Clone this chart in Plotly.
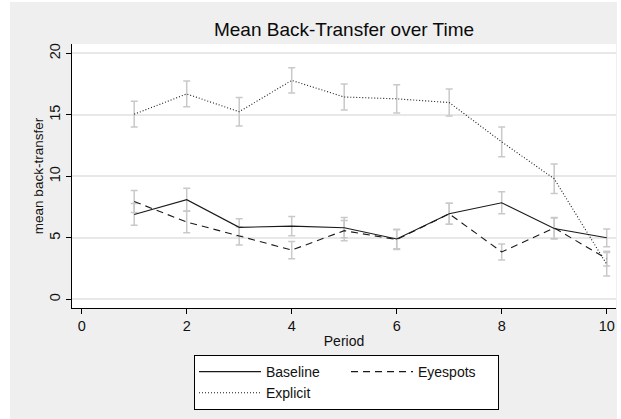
import plotly.graph_objects as go

periods = [1, 2, 3, 4, 5, 6, 7, 8, 9, 10]

baseline = [6.9, 8.1, 5.85, 5.95, 5.82, 4.9, 6.95, 7.85, 5.75, 5.0]
baseline_err = [0.88, 0.93, 0.7, 0.78, 0.82, 0.8, 0.85, 0.9, 0.85, 0.72]

eyespots = [7.95, 6.28, 5.15, 4.0, 5.58, 4.85, 6.95, 3.85, 5.8, 3.3]
eyespots_err = [0.9, 0.88, 0.74, 0.7, 0.82, 0.8, 0.85, 0.65, 0.85, 0.6]

explicit = [15.05, 16.7, 15.25, 17.8, 16.45, 16.3, 16.0, 12.8, 9.8, 2.85]
explicit_err = [1.05, 1.05, 1.15, 1.03, 1.05, 1.15, 1.1, 1.2, 1.2, 0.95]

x_ticks = [0, 2, 4, 6, 8, 10]
y_ticks = [0, 5, 10, 15, 20]

FONT = "Liberation Sans, Arial, sans-serif"
ERR_COLOR = "#c9c9c9"

series = [
    ("Baseline", baseline, baseline_err, "solid", "g1"),
    ("Eyespots", eyespots, eyespots_err, "7px,5px", "g2"),
    ("Explicit", explicit, explicit_err, "1px,2px", "g1"),
]

fig = go.Figure()

# error bars first (drawn underneath the lines)
for name, vals, errs, dash, grp in series:
    fig.add_trace(go.Scatter(
        x=periods, y=vals, mode="markers",
        marker=dict(size=0.1, color="rgba(0,0,0,0)"),
        error_y=dict(type="data", array=errs, visible=True,
                     color=ERR_COLOR, thickness=1.5, width=3.5),
        showlegend=False, hoverinfo="skip",
    ))

for name, vals, errs, dash, grp in series:
    fig.add_trace(go.Scatter(
        x=periods, y=vals, mode="lines", name=name, legendgroup=grp,
        line=dict(color="#1a1a1a", width=1.1, dash=dash),
    ))

W, H = 621, 419
L, R, T, B = 72, 5, 44, 111
PW, PH = W - L - R, H - T - B


def px_x(p):
    return (p - L) / PW


def px_y(p):
    return (H - B - p) / PH


fig.update_layout(
    width=W, height=H,
    margin=dict(l=L, r=R, t=T, b=B),
    paper_bgcolor="#efefef",
    plot_bgcolor="#ffffff",
    font=dict(family=FONT, size=14, color="#111111"),
    title=dict(text="Mean Back-Transfer over Time", x=344 / W, xanchor="center",
               y=1 - 29 / H, yanchor="middle",
               font=dict(family=FONT, size=19, color="#0a0a0a")),
    xaxis=dict(
        range=[-0.185, 10.177], tickvals=x_ticks, ticktext=[str(v) for v in x_ticks],
        showgrid=False, zeroline=False, showline=True, linecolor="#000000", linewidth=1,
        ticks="outside", ticklen=5, tickcolor="#000000",
        tickfont=dict(size=14.5),
        title=dict(text="Period", standoff=2, font=dict(size=14)),
    ),
    yaxis=dict(
        range=[-0.71, 20.76], tickvals=y_ticks, ticktext=[str(v) for v in y_ticks],
        showgrid=True, gridcolor="#e8e8e8", gridwidth=1.5,
        zeroline=False, showline=True, linecolor="#000000", linewidth=1,
        ticks="outside", ticklen=5, tickcolor="#000000",
        tickangle=-90, tickfont=dict(size=14.5),
        title=dict(text="mean back-transfer", standoff=0, font=dict(size=13.5)),
    ),
    legend=dict(
        orientation="h", x=px_x(194), xanchor="left",
        y=px_y(355), yanchor="top",
        bgcolor="#ffffff", bordercolor="#000000", borderwidth=1,
        font=dict(size=14), itemwidth=62, entrywidth=75,
        traceorder="grouped", tracegroupgap=0,
    ),
    shapes=[
        dict(type="rect", xref="paper", yref="paper",
             x0=px_x(-5), x1=px_x(10), y0=px_y(425), y1=px_y(-5),
             fillcolor="#ffffff", line=dict(width=0), layer="above"),
        dict(type="rect", xref="paper", yref="paper",
             x0=px_x(-5), x1=px_x(626), y0=px_y(2), y1=px_y(-5),
             fillcolor="#ffffff", line=dict(width=0), layer="above"),
        dict(type="rect", xref="paper", yref="paper",
             x0=px_x(617), x1=px_x(626), y0=px_y(425), y1=px_y(-5),
             fillcolor="#ffffff", line=dict(width=0), layer="above"),
    ],
)

fig.write_html("out.html", config={"displayModeBar": False},
               post_script="document.body.style.margin='0';")
